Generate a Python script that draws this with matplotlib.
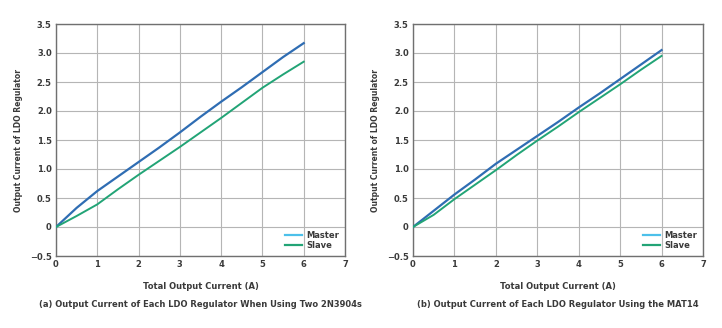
import matplotlib.pyplot as plt
from matplotlib.lines import Line2D

x_pts = [0, 0.5, 1, 1.5, 2, 2.5, 3, 3.5, 4, 4.5, 5, 5.5, 6]
masterA = [0, 0.33, 0.62, 0.87, 1.12, 1.37, 1.63, 1.90, 2.16, 2.41, 2.67, 2.93, 3.17]
slaveA = [0, 0.19, 0.39, 0.65, 0.90, 1.14, 1.38, 1.63, 1.88, 2.14, 2.40, 2.63, 2.85]
masterB = [0, 0.28, 0.56, 0.82, 1.09, 1.33, 1.57, 1.81, 2.06, 2.30, 2.55, 2.80, 3.05]
slaveB = [0, 0.21, 0.48, 0.73, 0.98, 1.24, 1.49, 1.73, 1.98, 2.22, 2.46, 2.71, 2.95]

xticks = [0, 1, 2, 3, 4, 5, 6, 7]
yticks = [-0.5, 0, 0.5, 1.0, 1.5, 2.0, 2.5, 3.0, 3.5]
ylabels = ['\u22120.5', '0', '0.5', '1.0', '1.5', '2.0', '2.5', '3.0', '3.5']

masterColor = '#2f6db3'
masterLegend = '#4cc0ea'
slaveColor = '#22a476'
txt = '#3a3a3a'

plt.rcParams['font.family'] = ['DejaVu Sans']
plt.rcParams['font.weight'] = 'bold'
plt.rcParams['axes.labelweight'] = 'bold'

fig = plt.figure(figsize=(7.22, 3.28), dpi=100)
axA = fig.add_axes([56 / 722, 1 - 256 / 328, 289 / 722, 232 / 328])
axB = fig.add_axes([413 / 722, 1 - 256 / 328, 290 / 722, 232 / 328])

panels = [
    (axA, masterA, slaveA, '(a) Output Current of Each LDO Regulator When Using Two 2N3904s'),
    (axB, masterB, slaveB, '(b) Output Current of Each LDO Regulator Using the MAT14'),
]

for ax, m, s, cap in panels:
    ax.plot(x_pts, m, color=masterColor, lw=1.6, zorder=3)
    ax.plot(x_pts, s, color=slaveColor, lw=1.4, zorder=3)
    ax.set_xlim(0, 7)
    ax.set_ylim(-0.5, 3.5)
    ax.set_xticks(xticks)
    ax.set_yticks(yticks)
    ax.set_yticklabels(ylabels)
    ax.grid(True, color='#b5b5b5', lw=0.8)
    ax.set_axisbelow(True)
    for sp in ax.spines.values():
        sp.set_color('#707070')
        sp.set_linewidth(1.0)
    ax.tick_params(length=0, labelsize=6, colors=txt, pad=3)
    ax.set_ylabel('Output Current of LDO Regulator', fontsize=5.5, color=txt, labelpad=5)
    ax.set_xlabel('Total Output Current (A)', fontsize=6, color=txt, labelpad=9)
    ax.text(0.5, -0.19, cap, transform=ax.transAxes, ha='center', va='top', fontsize=6, color=txt)
    handles = [Line2D([], [], color=masterLegend, lw=1.6), Line2D([], [], color=slaveColor, lw=1.6)]
    ax.legend(handles, ['Master', 'Slave'], loc='lower right', frameon=False, fontsize=6,
              handlelength=2.0, handletextpad=0.5, labelspacing=0.2, borderaxespad=0.3,
              labelcolor=txt)

fig.savefig('out.png', dpi=100, facecolor='white')
